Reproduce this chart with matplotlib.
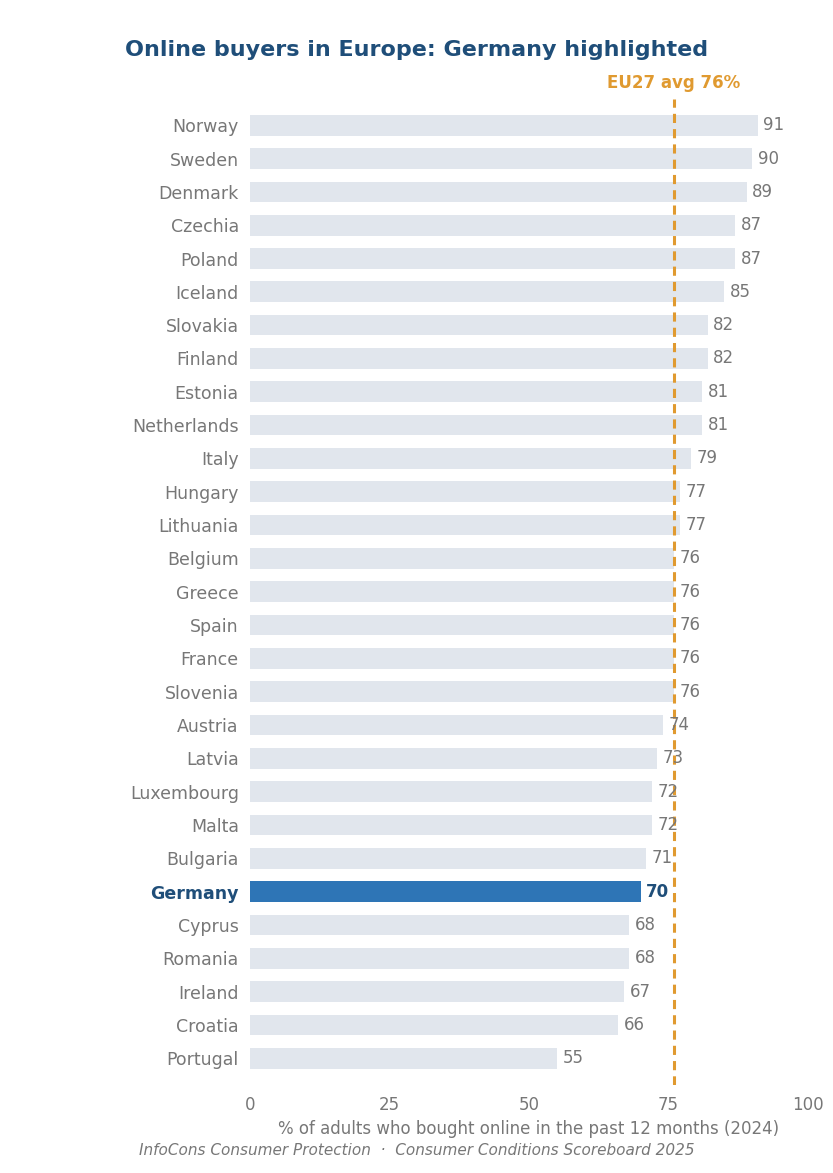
import matplotlib.pyplot as plt

# ====== DATA ======
countries = ["Norway", "Sweden", "Denmark", "Czechia", "Poland", "Iceland", "Slovakia",
             "Finland", "Estonia", "Netherlands", "Italy", "Hungary", "Lithuania",
             "Belgium", "Greece", "Spain", "France", "Slovenia", "Austria", "Latvia",
             "Luxembourg", "Malta", "Bulgaria", "Germany", "Cyprus", "Romania",
             "Ireland", "Croatia", "Portugal"]
values = [91, 90, 89, 87, 87, 85, 82, 82, 81, 81, 79, 77, 77, 76, 76, 76, 76, 76,
          74, 73, 72, 72, 71, 70, 68, 68, 67, 66, 55]
highlight = "Germany"
eu_avg = 76
xticks = [0, 25, 50, 75, 100]

grey = "#777777"
fig = plt.figure(figsize=(8.33, 11.73), dpi=100)
ax = fig.add_axes([0.300, 0.075, 0.670, 0.841])

pos = list(range(len(countries)))
colors = ["#2e75b6" if c == highlight else "#e1e6ed" for c in countries]
ax.barh(pos, values, height=0.62, color=colors, zorder=2)

for p, c, v in zip(pos, countries, values):
    hl = c == highlight
    ax.text(v + 1, p, str(v), va="center", ha="left", fontsize=12,
            color="#1f4e79" if hl else grey, fontweight="bold" if hl else "normal", zorder=4)

ax.axvline(eu_avg, color="#e09a30", linestyle="--", linewidth=2.2, dashes=(3, 2), zorder=3)
ax.text(eu_avg, -1.0, f"EU27 avg {eu_avg}%", ha="center", va="bottom",
        color="#e09a30", fontsize=12, fontweight="bold")

ax.set_yticks(pos)
ax.set_yticklabels(countries, fontsize=12.5, color=grey)
for lab in ax.get_yticklabels():
    if lab.get_text() == highlight:
        lab.set_color("#1f4e79")
        lab.set_fontweight("bold")
ax.set_ylim(len(countries) - 0.2, -0.8)
ax.set_xlim(0, 100)
ax.set_xticks(xticks)
ax.set_xticklabels([str(t) for t in xticks], fontsize=12, color=grey)
ax.tick_params(length=0, pad=8)
ax.tick_params(axis="y", pad=8)
for s in ax.spines.values():
    s.set_visible(False)
ax.set_xlabel("% of adults who bought online in the past 12 months (2024)",
              fontsize=12, color=grey, labelpad=4)

fig.text(0.5, 0.957, "Online buyers in Europe: Germany highlighted", ha="center",
         va="center", fontsize=16, fontweight="bold", color="#1f4e79")
fig.text(0.5, 0.019, "InfoCons Consumer Protection  ·  Consumer Conditions Scoreboard 2025",
         ha="center", va="center", fontsize=11, style="italic", color=grey)

fig.savefig("out.png", dpi=100)
